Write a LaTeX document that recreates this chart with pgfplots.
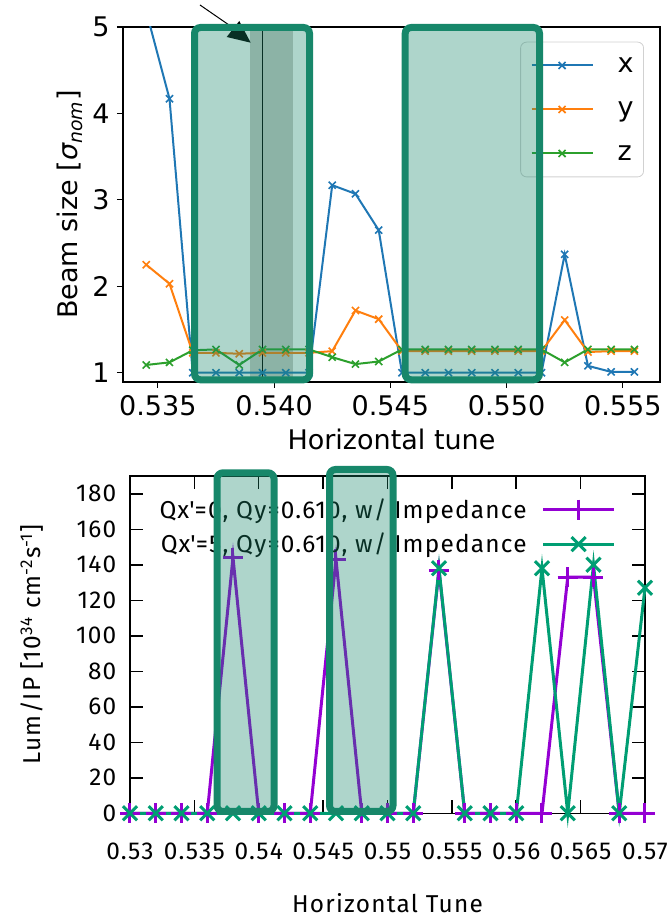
\documentclass[border=0pt]{standalone}
\usepackage{fontspec}
\usepackage{pgfplots}
\usepackage{pgfplotstable}
\pgfplotsset{compat=1.18}
\setmainfont{DejaVu Sans}
\newfontfamily\gpfont[LetterSpace=5]{Fira Sans}

\definecolor{tabblue}{HTML}{1F77B4}
\definecolor{taborange}{HTML}{FF7F0E}
\definecolor{tabgreen}{HTML}{2CA02C}
\definecolor{boxgreen}{HTML}{17876A}
\definecolor{bandgray}{RGB}{204,203,199}
\definecolor{gpurple}{HTML}{9400D3}
\definecolor{ggreen}{HTML}{009E73}

% beam size vs horizontal tune
\pgfplotstableread{
t      x     y     z
0.5345 5.18  2.25  1.09
0.5355 4.17  2.03  1.12
0.5365 1.00  1.23  1.26
0.5375 1.00  1.23  1.27
0.5385 1.00  1.22  1.09
0.5395 1.00  1.23  1.27
0.5405 1.00  1.23  1.27
0.5415 1.00  1.23  1.27
0.5425 3.17  1.25  1.18
0.5435 3.07  1.72  1.10
0.5445 2.65  1.62  1.13
0.5455 1.00  1.25  1.27
0.5465 1.00  1.25  1.27
0.5475 1.00  1.25  1.27
0.5485 1.00  1.25  1.27
0.5495 1.00  1.25  1.27
0.5505 1.00  1.25  1.27
0.5515 1.00  1.25  1.27
0.5525 2.37  1.61  1.12
0.5535 1.08  1.24  1.27
0.5545 1.01  1.25  1.27
0.5555 1.01  1.25  1.27
}\beamdata

% luminosity, Qx'=0
\pgfplotstableread{
q     l
0.530 0
0.532 0
0.534 0
0.536 0
0.538 144
0.540 0
0.542 0
0.544 0
0.546 143
0.548 0
0.550 0
0.552 0
0.554 137
0.556 0
0.558 0
0.560 0
0.562 0
0.564 133
0.566 133
0.568 0
0.570 0
}\lumzero

% luminosity, Qx'=5
\pgfplotstableread{
q     l
0.530 0
0.532 0
0.534 0
0.536 0
0.538 0
0.540 0
0.542 0
0.544 0
0.546 0
0.548 0
0.550 0
0.552 0
0.554 138
0.556 0
0.558 0
0.560 0
0.562 138
0.564 0
0.566 140
0.568 0
0.570 127
}\lumfive

\begin{document}
\begin{tikzpicture}
\path[use as bounding box] (0,0) rectangle (335.5pt,458.5pt);

\begin{axis}[
  at={(61.5pt,267.5pt)}, anchor=south west,
  scale only axis, width=268.5pt, height=177.5pt,
  xmin=0.5335, xmax=0.5566, ymin=0.893, ymax=5,
  xtick={0.535,0.540,0.545,0.550,0.555},
  xticklabels={0.535,0.540,0.545,0.550,0.555},
  ytick={1,2,3,4,5}, yticklabels={1,2,3,4,5},
  tick align=outside, xtick pos=bottom, ytick pos=left,
  major tick length=3pt,
  axis line style={line width=0.6pt},
  tick style={line width=0.6pt, black},
  ticklabel style={font=\fontsize{13.5}{16}\selectfont, inner sep=0pt},
  xticklabel style={anchor=north, yshift=-3.5pt},
  yticklabel style={anchor=east, xshift=-3.5pt},
  xlabel={Horizontal tune},
  ylabel={Beam size [{\itshape σ}\textsubscript{\itshape nom}]},
  label style={font=\fontsize{13.5}{16}\selectfont},
  xlabel style={at={(axis description cs:0.5,0)}, anchor=center, yshift=-28.5pt},
  ylabel style={at={(axis description cs:0,0.5)}, anchor=center, yshift=26.5pt},
  legend style={at={(0.9702,0.9586)}, anchor=north east, draw=black!18, fill=white,
    rounded corners=3pt, font=\fontsize{13.5}{16}\selectfont,
    inner xsep=5pt, inner ysep=8pt, row sep=14.6pt,
    nodes={inner sep=0pt, text height=7.4pt, text depth=0pt},
    /tikz/every odd column/.append style={column sep=12pt}},
  legend cell align=left,
  legend image code/.code={\draw[mark repeat=2,mark phase=2,#1] plot coordinates {(0pt,0pt) (15.25pt,0pt) (30.5pt,0pt)};},
  every axis plot/.append style={line width=1pt, mark=x, mark size=2.5pt, mark options={line width=0.8pt}},
]
\fill[bandgray] (axis cs:0.53896,0.893) rectangle (axis cs:0.54081,5);
\addplot[tabblue] table[x=t, y=x] {\beamdata};
\addplot[taborange] table[x=t, y=y] {\beamdata};
\addplot[tabgreen] table[x=t, y=z] {\beamdata};
\legend{x, y, z}
\draw[black, line width=0.7pt] (axis cs:0.5395,0.893) -- (axis cs:0.5395,5);
\end{axis}

\begin{axis}[
  at={(65pt,51.85pt)}, anchor=south west,
  scale only axis, width=257.5pt, height=168.65pt,
  xmin=0.53, xmax=0.57, ymin=0, ymax=190,
  clip=false,
  xtick={0.53,0.535,0.54,0.545,0.55,0.555,0.56,0.565,0.57},
  xticklabels={0.53,0.535,0.54,0.545,0.55,0.555,0.56,0.565,0.57},
  ytick={0,20,40,60,80,100,120,140,160,180},
  yticklabels={0,20,40,60,80,100,120,140,160,180},
  tick align=inside, major tick length=6.5pt,
  axis line style={line width=0.75pt},
  tick style={line width=0.75pt, black},
  ticklabel style={font=\gpfont\fontsize{12.2}{14}\selectfont, inner sep=0pt},
  xticklabel style={anchor=north},
  yticklabel style={anchor=east},
  xticklabel shift=14.65pt,
  yticklabel shift=6.65pt,
  xlabel={Horizontal Tune},
  ylabel={Lum/IP [10\textsuperscript{34} cm\textsuperscript{-2}s\textsuperscript{-1}]},
  label style={font=\gpfont\fontsize{12.2}{14}\selectfont},
  xlabel style={at={(axis description cs:0.5,0)}, anchor=center, yshift=-45pt},
  ylabel style={at={(axis description cs:0,0.5)}, anchor=center, yshift=49pt},
  legend style={at={(0.9437,0.9309)}, anchor=north east, draw=none, fill=none,
    font=\gpfont\fontsize{12.2}{14}\selectfont, inner sep=0pt, row sep=8pt,
    nodes={inner sep=0pt, text height=8.35pt, text depth=0pt},
    /tikz/every odd column/.append style={column sep=7.5pt}},
  legend plot pos=right, legend cell align=right,
  legend image code/.code={\draw[mark repeat=2,mark phase=2,#1] plot coordinates {(0pt,0pt) (17.75pt,0pt) (35.5pt,0pt)};},
]
\addplot[gpurple, line width=1.5pt, mark=+, mark size=5pt, mark options={line width=1.5pt}] table[x=q, y=l] {\lumzero};
\addplot[ggreen, line width=1.5pt, mark=x, mark size=5pt, mark options={line width=1.5pt}] table[x=q, y=l] {\lumfive};
\legend{Qx\textquotesingle=0{,} Qy=0.610{,} w/ Impedance, Qx\textquotesingle=5{,} Qy=0.610{,} w/ Impedance}
\end{axis}

% highlight boxes and arrow (pixel coordinates of the reference)
\begin{scope}[x=0.5pt, y=-0.5pt, shift={(0pt,458.5pt)}]
\fill[black] (226.7,37) -- (250.7,42.7) -- (239.3,21) -- cycle;
\draw[black, line width=0.5pt] (200,5) -- (229,25);
\draw[boxgreen, line width=3.5pt, fill=boxgreen, fill opacity=0.35, rounded corners=3pt] (194.5,27.5) rectangle (309.5,379.8);
\draw[boxgreen, line width=3.5pt, fill=boxgreen, fill opacity=0.35, rounded corners=3pt] (405.2,27.5) rectangle (539.5,379.8);
\draw[boxgreen, line width=3.5pt, fill=boxgreen, fill opacity=0.35, rounded corners=3pt] (217,472.8) rectangle (274,811.5);
\draw[boxgreen, line width=3.5pt, fill=boxgreen, fill opacity=0.35, rounded corners=3pt] (329.5,469.5) rectangle (393,811.5);
\end{scope}
\end{tikzpicture}
\end{document}
